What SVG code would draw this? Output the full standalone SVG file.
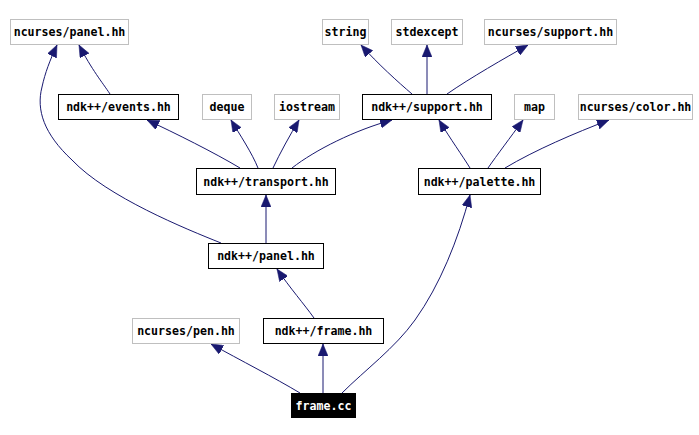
<svg xmlns="http://www.w3.org/2000/svg" width="699" height="435" viewBox="0 0 699 435">
<style>
.n rect{fill:#fff;stroke:#000;stroke-width:1}
.n.ext rect{stroke:#bfbfbf}
.n text{font-family:"DejaVu Sans Mono","Liberation Mono",monospace;font-weight:bold;font-size:11.6px;fill:#000;text-anchor:middle}
#n_frame_cc rect{fill:#000;stroke:#000}
#n_frame_cc text{fill:#fff}
.e path{fill:none;stroke:#191970;stroke-width:1;marker-end:url(#ah)}
</style>
<defs>
<marker id="ah" viewBox="0 0 12 10" refX="12" refY="5" markerWidth="12" markerHeight="10" markerUnits="userSpaceOnUse" orient="auto" preserveAspectRatio="none">
<path d="M0,0 L12,5 L0,10 z" fill="#191970" stroke="#191970" stroke-width="0.5"/>
</marker>
</defs>
<rect width="699" height="435" fill="#fff"/>
<g id="edges" class="e">
<path d="M110,94 C102,82 92,70 79,45"/>
<path d="M221,243 C186,229 107,197 72,160 C44,134 36,110 42,87 C45,73 50,60 57,45"/>
<path d="M240,168 C215,153 175,133 147,120"/>
<path d="M258,168 C252,153 240,135 231,120"/>
<path d="M273,168 C280,153 290,135 299,120"/>
<path d="M292,168 C315,150 355,130 392,120"/>
<path d="M412,94 C398,82 378,64 361,45"/>
<path d="M427,94 L427,45"/>
<path d="M447,94 C470,78 505,58 528,45"/>
<path d="M470,168 C462,155 451,140 439,120"/>
<path d="M488,168 C497,155 510,138 523,120"/>
<path d="M505,168 C535,150 575,133 609,120"/>
<path d="M266,243 L266,195"/>
<path d="M314,318 C304,304 290,288 277,269"/>
<path d="M300,393 C275,378 240,360 211,344"/>
<path d="M323,393 L323,344"/>
<path d="M342,393 C365,370 395,348 415,320 C440,285 458,240 470,195"/>
</g>
<g id="n_ncurses_panel" class="n ext"><rect x="10.5" y="19.5" width="118" height="25"/><text x="69.5" y="36">ncurses/panel.hh</text></g>
<g id="n_string" class="n ext"><rect x="322.5" y="19.5" width="46" height="25"/><text x="345.5" y="36">string</text></g>
<g id="n_stdexcept" class="n ext"><rect x="391.5" y="19.5" width="71" height="25"/><text x="427" y="36">stdexcept</text></g>
<g id="n_ncurses_support" class="n ext"><rect x="484.5" y="19.5" width="132" height="25"/><text x="550.5" y="36">ncurses/support.hh</text></g>
<g id="n_events" class="n"><rect x="58.5" y="94.5" width="120" height="25"/><text x="118.5" y="111">ndk++/events.hh</text></g>
<g id="n_deque" class="n ext"><rect x="202.5" y="94.5" width="49" height="25"/><text x="227" y="111">deque</text></g>
<g id="n_iostream" class="n ext"><rect x="274.5" y="94.5" width="65" height="25"/><text x="307" y="111">iostream</text></g>
<g id="n_support" class="n"><rect x="362.5" y="94.5" width="129" height="25"/><text x="427" y="111">ndk++/support.hh</text></g>
<g id="n_map" class="n ext"><rect x="514.5" y="94.5" width="40" height="25"/><text x="534.5" y="111">map</text></g>
<g id="n_ncurses_color" class="n ext"><rect x="578.5" y="94.5" width="114" height="25"/><text x="635.5" y="111">ncurses/color.hh</text></g>
<g id="n_transport" class="n"><rect x="196.5" y="168.5" width="139" height="26"/><text x="266" y="185.5">ndk++/transport.hh</text></g>
<g id="n_palette" class="n"><rect x="418.5" y="168.5" width="122" height="26"/><text x="479.5" y="185.5">ndk++/palette.hh</text></g>
<g id="n_panel" class="n"><rect x="208.5" y="243.5" width="115" height="25"/><text x="266" y="260">ndk++/panel.hh</text></g>
<g id="n_ncurses_pen" class="n ext"><rect x="132.5" y="318.5" width="107" height="25"/><text x="186" y="335">ncurses/pen.hh</text></g>
<g id="n_frame_hh" class="n"><rect x="263.5" y="318.5" width="120" height="25"/><text x="323.5" y="335">ndk++/frame.hh</text></g>
<g id="n_frame_cc" class="n"><rect x="291.5" y="393.5" width="64" height="24"/><text x="323.5" y="409.5">frame.cc</text></g>
</svg>
